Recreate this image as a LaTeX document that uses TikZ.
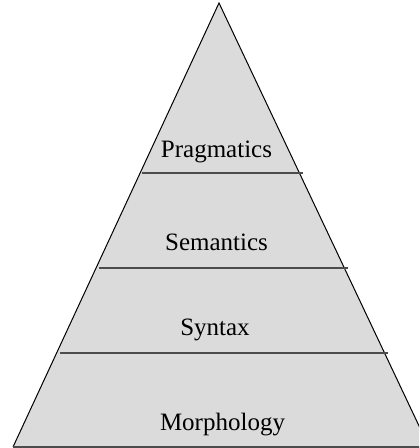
\documentclass[tikz,border=0pt]{standalone}
\usepackage{fontspec}
\setmainfont{Liberation Serif}

\begin{document}
\begin{tikzpicture}[x=0.5pt, y=-0.5pt,
    layer/.style={font=\fontsize{12.5}{15}\selectfont, anchor=base, inner sep=0pt},
    divider/.style={draw=black!70, line width=0.8pt}]
  \useasboundingbox (0,0) rectangle (419,448);
  \clip (0,0) rectangle (419,448);
  \coordinate (top) at (219,3);
  \coordinate (left) at (13,447);
  \coordinate (right) at (429,447);
  % pyramid
  \fill[black!14] (top) -- (left) -- (right) -- cycle;
  \draw[line width=0.5pt] (left) -- (top) -- (right);
  % levels
  \draw[divider] (142,173) -- (303,173);
  \draw[divider] (99,268) -- (348,268);
  \draw[divider] (60,353) -- (388,353);
  \draw[divider] (left) -- (right);
  \node[layer] (pragmatics) at (216.5,158) {Pragmatics};
  \node[layer] (semantics) at (216.5,250) {Semantics};
  \node[layer] (syntax) at (215,335) {Syntax};
  \node[layer] (morphology) at (222.5,430) {Morphology};
\end{tikzpicture}
\end{document}
